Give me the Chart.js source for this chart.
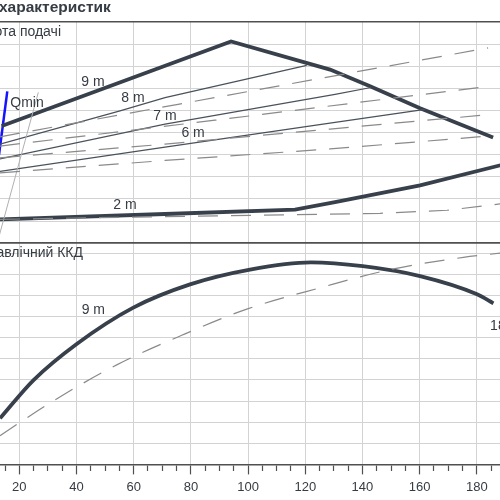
<!DOCTYPE html>
<html>
<head>
<meta charset="utf-8">
<script src="https://cdn.jsdelivr.net/npm/chart.js@4.4.0/dist/chart.umd.min.js"></script>
<style>
  html, body { margin: 0; padding: 0; background: #fff; }
  canvas { display: block; }
</style>
</head>
<body>
<canvas id="chart" width="500" height="500"></canvas>
<script>
// flow (x) values and heads for the upper panel
const curve9mQ = [13.84, 94.05, 128.67, 142.67, 160.15, 185.69];
const curve9mH = [5.30, 9.12, 7.85, 7.10, 6.10, 4.78];
const curve8mQ = [13.25, 55.22, 70.96, 120.52];
const curve8mH = [4.48, 5.98, 6.58, 8.04];
const curve7mQ = [13.25, 70.96, 130.42, 143.02];
const curve7mH = [3.81, 5.38, 6.73, 7.04];
const curve6mQ = [13.25, 70.96, 130.42, 161.90];
const curve6mH = [3.25, 4.34, 5.46, 6.05];
const curve2mQ = [13.25, 70.96, 116.43, 130.42, 160.15, 188.5];
const curve2mH = [1.08, 1.32, 1.52, 1.86, 2.61, 3.53];

// dashed comparison curves, upper panel
const dashAQ = [13.25, 75.51, 183.94];
const dashAH = [4.81, 6.28, 8.83];
const dashBQ = [13.25, 88.45, 184.64];
const dashBH = [4.39, 5.56, 7.10];
const dashCQ = [13.25, 70.96, 128.67, 185.69];
const dashCH = [3.86, 4.48, 5.16, 5.83];
const dashDQ = [13.25, 70.96, 128.67, 185.69];
const dashDH = [3.18, 3.74, 4.26, 4.86];
const dash2mQ = [13.25, 70.96, 146.16, 169.60, 188.5];
const dash2mH = [1.08, 1.20, 1.35, 1.49, 1.78];

const qminQ = [15.80, 12.90];
const qminH = [6.86, 4.00];
const limitQ = [26.65, 12.27];
const limitH = [6.82, 0];

// lower panel: hydraulic efficiency
const effQ = [13.25, 24.90, 40.08, 59.87, 79.71, 100.69, 122.0, 140.11, 160.15, 180.08, 185.80];
const effV = [2.18, 3.98, 5.70, 7.42, 8.52, 9.22, 9.56, 9.38, 8.91, 8.05, 7.62];
const effDashQ = [13.25, 31.33, 54.07, 76.80, 99.54, 125.18, 149.66, 175.30, 188.14];
const effDashV = [1.36, 2.96, 4.71, 6.11, 7.35, 8.36, 9.22, 9.80, 10.00];

// axes
const xMin = 13.25, xMax = 188.1;
const xTickLabels = [20, 40, 60, 80, 100, 120, 140, 160, 180];
const headTicks = [0, 1, 2, 3, 4, 5, 6, 7, 8, 9, 10];
const effTicks = [0, 1, 2, 3, 4, 5, 6, 7, 8, 9, 10];
const effMax = 10.47;

const curveLabels = [
  { text: '9 m', q: 45.78, v: 7.26, axis: 'yHead' },
  { text: '8 m', q: 59.77, v: 6.55, axis: 'yHead' },
  { text: '7 m', q: 70.96, v: 5.74, axis: 'yHead' },
  { text: '6 m', q: 80.76, v: 4.98, axis: 'yHead' },
  { text: '2 m', q: 56.97, v: 1.70, axis: 'yHead' },
  { text: 'Qmin', q: 22.69, v: 6.31, axis: 'yHead' },
  { text: '9 m', q: 45.88, v: 7.30, axis: 'yEff' },
  { text: '18', q: 184.64, v: 6.54, axis: 'yEff', align: 'left' },
];

const dark = '#38414b';
const thin = '#4a525c';
const dashGray = '#8a8a8a';
const gridColor = '#d3d3d3';
const frameColor = '#505050';
const textColor = '#363c43';

Chart.defaults.font.family = "'Liberation Sans', Arial, sans-serif";
Chart.defaults.font.size = 13;
Chart.defaults.color = textColor;

const pts = (xs, ys) => xs.map((x, i) => ({ x: x, y: ys[i] }));

function line(xs, ys, axis, color, width, dash, smooth) {
  return {
    data: pts(xs, ys),
    yAxisID: axis,
    borderColor: color,
    borderWidth: width,
    borderDash: dash || [],
    pointRadius: 0,
    tension: 0,
    cubicInterpolationMode: smooth ? 'monotone' : 'default',
    fill: false,
  };
}

const textPlugin = {
  id: 'texts',
  afterDatasetsDraw(chart) {
    const ctx = chart.ctx;
    const sx = chart.scales.x;
    ctx.save();
    ctx.fillStyle = textColor;
    ctx.textBaseline = 'middle';

    ctx.font = "bold 15.5px 'Liberation Sans', Arial, sans-serif";
    ctx.textAlign = 'left';
    ctx.fillText('характеристик', -1, 8);

    ctx.font = "14px 'Liberation Sans', Arial, sans-serif";
    ctx.textAlign = 'right';
    ctx.fillText('Висота подачі', 61, chart.scales.yHead.top + 10);
    ctx.fillText('Гідравлічний ККД', 83, chart.scales.yEff.top + 10);

    curveLabels.forEach(l => {
      ctx.textAlign = l.align || 'center';
      ctx.fillText(l.text, sx.getPixelForValue(l.q), chart.scales[l.axis].getPixelForValue(l.v));
    });
    ctx.restore();
  }
};

new Chart(document.getElementById('chart'), {
  type: 'line',
  data: {
    datasets: [
      line(dashAQ, dashAH, 'yHead', dashGray, 1.2, [20, 13]),
      line(dashBQ, dashBH, 'yHead', dashGray, 1.2, [20, 13]),
      line(dashCQ, dashCH, 'yHead', dashGray, 1.2, [20, 13]),
      line(dashDQ, dashDH, 'yHead', dashGray, 1.2, [20, 13]),
      line(dash2mQ, dash2mH, 'yHead', dashGray, 1.2, [20, 13]),
      line(limitQ, limitH, 'yHead', '#b0b0b0', 1),
      line(curve8mQ, curve8mH, 'yHead', thin, 1.2),
      line(curve7mQ, curve7mH, 'yHead', thin, 1.2),
      line(curve6mQ, curve6mH, 'yHead', thin, 1.2),
      line(curve9mQ, curve9mH, 'yHead', dark, 3.8),
      line(curve2mQ, curve2mH, 'yHead', dark, 3.8),
      line(qminQ, qminH, 'yHead', '#1414ff', 2.5),
      line(effDashQ, effDashV, 'yEff', dashGray, 1.2, [20, 13], true),
      line(effQ, effV, 'yEff', dark, 3.8, null, true),
    ]
  },
  options: {
    responsive: false,
    animation: false,
    events: [],
    layout: { padding: { top: 22, left: 0, right: 0, bottom: 0 } },
    plugins: { legend: { display: false }, tooltip: { enabled: false } },
    scales: {
      x: {
        type: 'linear',
        min: xMin,
        max: xMax,
        afterBuildTicks: s => {
          const t = [];
          for (let v = 15; v <= 185; v += 5) t.push({ value: v });
          s.ticks = t;
        },
        ticks: {
          autoSkip: false,
          maxRotation: 0,
          minRotation: 0,
          padding: 5,
          color: textColor,
          callback: v => xTickLabels.includes(v) ? String(v) : '',
        },
        grid: {
          color: c => xTickLabels.includes(c.tick && c.tick.value) ? gridColor : 'rgba(0,0,0,0)',
          tickColor: frameColor,
          tickLength: 10,
          tickWidth: 1.2,
          tickBorderDash: c => xTickLabels.includes(c.tick && c.tick.value) ? [] : [5.5, 30],
        },
        border: { color: frameColor, width: 1.5 },
      },
      yEff: {
        type: 'linear',
        position: 'left',
        stack: 'panels',
        stackWeight: 1,
        min: 0,
        max: effMax,
        afterBuildTicks: s => { s.ticks = effTicks.concat([effMax]).map(v => ({ value: v })); },
        ticks: { display: false },
        grid: {
          drawTicks: false,
          color: c => c.tick && c.tick.value === effMax ? frameColor : gridColor,
          lineWidth: c => c.tick && c.tick.value === effMax ? 1.5 : 1,
        },
        border: { display: false },
      },
      yHead: {
        type: 'linear',
        position: 'left',
        stack: 'panels',
        stackWeight: 1,
        min: 0,
        max: 10,
        afterBuildTicks: s => { s.ticks = headTicks.map(v => ({ value: v })); },
        ticks: { display: false },
        grid: {
          drawTicks: false,
          color: c => c.tick && (c.tick.value === 10 || c.tick.value === 0) ? frameColor : gridColor,
          lineWidth: c => c.tick && (c.tick.value === 10 || c.tick.value === 0) ? 1.5 : 1,
        },
        border: { display: false },
      },
    }
  },
  plugins: [textPlugin]
});
</script>
</body>
</html>
